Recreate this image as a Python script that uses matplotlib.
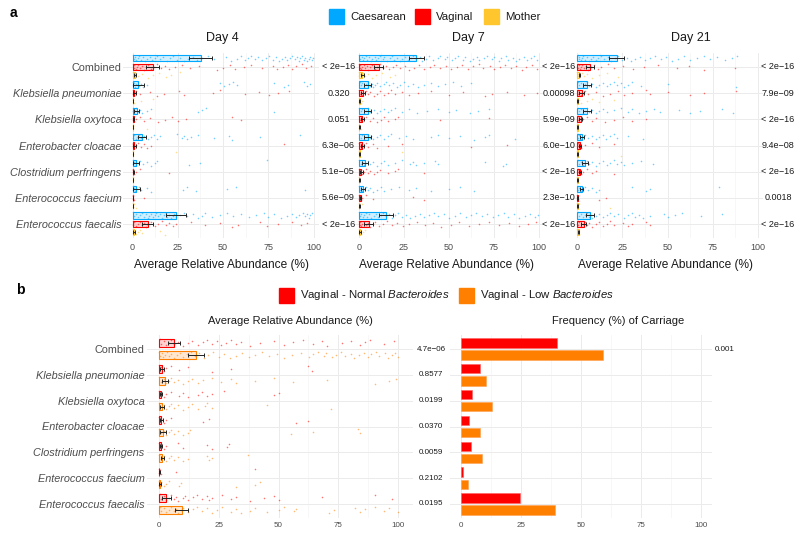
import matplotlib
matplotlib.use('Agg')
import matplotlib.pyplot as plt
from matplotlib.colors import to_rgba

plt.rcParams['font.family'] = ['Liberation Sans', 'DejaVu Sans']
plt.rcParams['mathtext.fontset'] = 'custom'
plt.rcParams['mathtext.it'] = 'Liberation Sans:italic'
plt.rcParams['mathtext.rm'] = 'Liberation Sans'

# ---------------- data ----------------
species = ["Combined", "Klebsiella pneumoniae", "Klebsiella oxytoca", "Enterobacter cloacae",
           "Clostridium perfringens", "Enterococcus faecium", "Enterococcus faecalis"]
days = ["Day 4", "Day 7", "Day 21"]
groups_a = ["Caesarean", "Vaginal", "Mother"]
groups_b = ["Vaginal - Normal", "Vaginal - Low"]

# mean relative abundance (%) and standard error, panel a
d4_caes_mean = [37.6, 3.3, 2.3, 5.2, 2.0, 2.0, 24.0]
d4_caes_se = [6.2, 3.0, 1.2, 2.3, 1.6, 2.0, 5.3]
d4_vag_mean = [11.2, 1.0, 0.6, 1.0, 0.4, 0.2, 8.5]
d4_vag_se = [3.5, 0.8, 0.5, 0.9, 0.3, 0.2, 3.0]
d4_mom_mean = [1.5, 0.3, 0.3, 0.3, 0.2, 0.2, 1.0]
d4_mom_se = [0.6, 0.2, 0.2, 0.2, 0.1, 0.1, 0.5]

d7_caes_mean = [32.0, 5.0, 5.0, 5.0, 3.5, 2.5, 15.0]
d7_caes_se = [4.0, 2.0, 2.0, 1.8, 1.8, 1.2, 4.0]
d7_vag_mean = [11.0, 2.5, 2.0, 2.0, 1.5, 1.0, 5.5]
d7_vag_se = [2.3, 1.0, 0.8, 0.8, 0.7, 0.5, 2.5]
d7_mom_mean = [2.0, 0.5, 0.3, 0.5, 0.3, 0.3, 0.8]
d7_mom_se = [0.8, 0.3, 0.2, 0.3, 0.2, 0.2, 0.4]

d21_caes_mean = [21.8, 5.2, 5.5, 2.5, 4.3, 2.4, 7.0]
d21_caes_se = [4.0, 2.3, 2.3, 1.0, 1.7, 0.8, 2.3]
d21_vag_mean = [6.9, 2.5, 2.0, 1.5, 1.5, 0.3, 3.5]
d21_vag_se = [2.3, 1.3, 0.8, 0.6, 0.6, 0.2, 1.3]
d21_mom_mean = [1.2, 0.3, 0.3, 0.3, 0.3, 0.3, 0.8]
d21_mom_se = [0.5, 0.2, 0.2, 0.2, 0.2, 0.2, 0.4]

# individual samples (relative abundance %), panel a
d4_caes_pts = [
    [0.3, 0.8, 1.4, 2.1, 2.9, 3.6, 4.8, 5.7, 6.9, 8.2, 9.5, 10.7, 12.4, 13.8, 15.3, 17.1, 18.9, 20.6, 22.4, 24.8,
     26.3, 28.7, 30.9, 33.2, 35.6, 38.4, 41.7, 45.3, 51.6, 54.2, 57.8, 59.9, 62.3, 63.8, 65.7, 67.9, 69.4, 71.8,
     73.5, 75.2, 77.6, 79.3, 80.8, 82.7, 84.1, 85.6, 86.9, 88.3, 89.7, 90.8, 91.9, 92.8, 93.6, 94.7, 95.5, 96.4,
     97.3, 98.2, 99.0, 99.8],
    [0.2, 0.5, 0.9, 1.4, 2.0, 2.8, 3.7, 4.6, 5.8, 7.9, 48.3, 50.6, 53.1, 55.4, 57.9, 78.2, 83.6, 86.1, 94.8, 96.3, 97.9],
    [0.1, 0.3, 0.6, 1.0, 1.5, 2.1, 3.0, 4.2, 5.1, 7.8, 10.2, 36.1, 38.2, 40.4, 78.3],
    [0.1, 0.5, 1.0, 1.8, 2.7, 3.6, 4.8, 6.1, 8.3, 10.2, 11.9, 13.8, 15.1, 24.7, 27.2, 28.4, 30.1, 32.3, 36.2,
     44.8, 53.1, 55.2, 70.3, 92.4],
    [0.1, 0.5, 1.0, 1.9, 2.8, 4.1, 5.9, 8.2, 10.1, 12.3, 13.4, 31.2, 37.4, 74.1],
    [0.1, 0.4, 0.9, 1.6, 2.5, 3.6, 4.8, 7.9, 10.2, 27.8, 30.3, 35.1, 52.2, 57.4, 95.1],
    [0.5, 1.1, 1.9, 2.8, 3.9, 5.1, 6.2, 7.3, 8.4, 9.2, 10.3, 11.1, 12.4, 13.2, 14.1, 15.3, 16.2, 17.4, 18.3, 19.1,
     20.2, 21.3, 22.4, 23.1, 24.2, 26.1, 28.3, 30.2, 33.4, 36.1, 38.2, 40.3, 44.1, 48.3, 52.2, 55.4, 60.1, 64.3,
     68.2, 72.4, 75.1, 78.3, 82.2, 85.4, 88.1, 90.3, 92.2, 94.1, 95.3, 96.2, 97.4, 98.1, 99.3]]
d4_vag_pts = [
    [0.2, 0.6, 1.1, 1.7, 2.4, 3.2, 4.1, 5.3, 6.2, 7.5, 8.8, 10.2, 11.9, 13.6, 15.8, 17.9, 20.4, 23.7, 27.1, 31.8,
     36.9, 46.5, 50.2, 53.8, 56.9, 61.7, 65.4, 71.3, 77.8, 80.1, 82.9, 85.7, 88.2, 90.6, 93.4, 96.1, 98.7],
    [0.1, 0.3, 0.6, 1.0, 1.5, 2.2, 3.9, 9.8, 13.7, 17.6, 25.9, 28.3, 44.7, 48.1, 61.9, 69.8, 75.6, 80.2, 86.3],
    [0.1, 0.3, 0.5, 1.0, 2.1, 3.9, 6.2, 9.8, 14.1, 18.2, 21.9, 25.3, 29.8, 54.7, 60.1],
    [0.1, 0.3, 0.5, 1.0, 2.1, 3.2, 4.9, 6.1, 8.2, 10.3, 83.8],
    [0.1, 0.3, 0.5, 1.0, 2.2, 4.1, 20.3],
    [0.1, 0.2, 0.5, 1.0, 6.1],
    [0.2, 0.5, 1.0, 1.9, 3.1, 4.2, 5.1, 6.3, 7.2, 8.1, 10.2, 12.3, 14.1, 16.2, 18.3, 20.1, 22.4, 24.2, 32.1,
     40.3, 48.2, 55.1, 58.3, 70.2, 74.1, 80.3, 88.2, 93.1, 96.2]]
d4_mom_pts = [
    [0.1, 0.3, 0.6, 1.0, 1.5, 2.2, 3.1, 5.4, 8.7, 11.2, 14.6, 18.3, 21.5, 26.0],
    [0.1, 0.3, 0.5, 1.1, 4.8, 11.6],
    [0.1, 0.3, 0.5, 8.2],
    [0.2, 0.5, 24.1],
    [0.1, 0.3],
    [0.1, 0.3, 1.0, 2.1],
    [0.2, 0.5, 1.0, 2.1, 3.2, 4.1, 5.2, 15.1, 18.2]]

d7_caes_pts = [
    [0.4, 0.9, 1.6, 2.2, 3.1, 3.8, 4.7, 5.5, 6.8, 7.4, 8.9, 9.6, 10.8, 12.1, 13.5, 14.2, 15.9, 17.3, 18.6, 19.4,
     21.2, 22.7, 24.1, 25.6, 27.3, 28.8, 30.2, 31.7, 33.9, 35.2, 37.6, 39.1, 41.5, 43.8, 45.2, 47.9, 49.3, 51.8,
     53.4, 55.1, 57.7, 59.2, 61.6, 63.3, 65.8, 67.1, 69.5, 71.2, 73.8, 75.4, 77.9, 79.3, 81.7, 83.2, 85.6, 87.4,
     89.1, 91.8, 93.3, 95.7, 97.2, 99.1],
    [0.5, 1.1, 2.0, 3.1, 4.2, 5.1, 6.3, 7.2, 8.1, 9.3, 10.2, 12.1, 14.3, 15.2, 17.1, 19.3, 21.2, 23.1, 25.3,
     27.2, 30.1, 33.2, 36.1, 40.3, 44.2, 48.1, 52.3, 57.1, 62.2],
    [0.3, 1.0, 2.1, 3.2, 4.1, 5.2, 6.1, 8.3, 10.2, 12.1, 14.3, 16.2, 18.1, 20.3, 24.2, 28.1, 32.3, 38.2, 44.1,
     50.3, 54.2, 62.1, 66.3, 72.2],
    [0.3, 1.0, 2.1, 3.2, 4.1, 5.2, 6.3, 7.1, 8.2, 10.3, 12.1, 14.2, 16.3, 18.1, 22.2, 26.1, 30.3, 40.2, 44.1,
     50.2, 56.3, 64.1, 70.2, 72.3, 87.1],
    [0.3, 1.0, 2.1, 3.2, 4.1, 5.3, 6.2, 8.1, 10.3, 12.2, 14.1, 16.3, 20.2, 24.1, 28.3, 30.2, 32.1, 36.3, 42.2,
     44.1, 70.3, 80.2, 82.1],
    [0.2, 0.5, 1.1, 2.0, 3.1, 4.2, 5.1, 6.3, 8.2, 10.1, 12.3, 14.2, 18.1, 22.3, 28.2, 32.1, 40.3, 50.2, 56.1, 64.3],
    [0.4, 0.9, 1.5, 2.2, 3.0, 3.9, 4.8, 5.9, 7.1, 8.3, 9.6, 10.9, 12.3, 13.7, 15.2, 16.8, 18.5, 20.3, 22.1, 24.2,
     26.4, 28.7, 31.2, 33.8, 36.1, 38.9, 41.6, 44.2, 47.3, 50.1, 53.4, 56.2, 59.5, 62.3, 65.1, 68.4, 71.2, 74.6,
     77.3, 80.5, 83.1, 86.4, 89.2, 92.5, 95.3, 97.8, 99.6]]
d7_vag_pts = [
    [0.2, 0.5, 0.9, 1.4, 2.0, 2.7, 3.5, 4.4, 5.3, 6.4, 7.6, 8.9, 10.3, 11.8, 13.4, 15.1, 16.9, 18.8, 20.9, 23.2,
     25.6, 28.1, 30.7, 33.5, 36.2, 39.4, 42.1, 45.3, 48.7, 51.2, 54.6, 57.3, 60.8, 63.5, 66.9, 69.2, 72.8, 75.3,
     78.6, 81.4, 84.7, 87.2, 90.5, 93.1, 96.4, 99.2],
    [0.2, 0.5, 1.0, 2.1, 3.2, 4.1, 5.2, 6.1, 8.3, 10.2, 12.1, 14.3, 16.2, 18.1, 20.3, 24.2, 28.1, 33.2, 40.1,
     50.3, 58.2, 70.1, 74.3, 82.2, 92.1, 99.3],
    [0.2, 0.5, 1.0, 2.1, 3.2, 4.1, 6.2, 8.1, 10.3, 12.2, 14.1, 16.3, 20.2, 22.1, 45.3, 72.2],
    [0.2, 0.5, 1.0, 2.1, 3.2, 4.1, 5.2, 8.1, 10.3, 16.2, 24.1, 62.3, 82.2],
    [0.2, 0.5, 1.0, 2.1, 3.2, 4.1, 5.2, 6.1, 8.3, 10.2, 12.1, 16.3, 20.2, 22.1, 36.3],
    [0.1, 0.3, 0.5, 1.0, 2.1, 4.2, 8.1, 30.3, 36.2],
    [0.2, 0.5, 0.9, 1.4, 2.1, 2.9, 3.8, 4.9, 6.2, 7.7, 9.3, 11.2, 13.4, 15.8, 18.3, 21.1, 24.6, 28.2, 32.5, 36.8,
     41.3, 45.7, 51.2, 55.8, 61.3, 66.7, 72.4, 78.1, 83.5, 88.9, 94.2, 98.6]]
d7_mom_pts = [
    [0.1, 0.3, 0.6, 1.0, 1.6, 2.4, 3.5, 5.1, 7.3, 9.8, 13.2, 17.6, 20.4],
    [0.1, 0.3, 0.5, 1.0, 2.1],
    [0.1, 0.3, 0.5, 1.0],
    [0.1, 0.3, 24.2],
    [0.1, 0.3],
    [0.1, 0.3, 2.1],
    [0.1, 0.3, 0.6, 1.2, 2.3, 3.4]]

d21_caes_pts = [
    [0.3, 0.7, 1.2, 1.8, 2.5, 3.3, 4.2, 5.2, 6.3, 7.5, 8.8, 10.2, 11.7, 13.3, 15.0, 16.8, 18.7, 20.7, 22.8, 25.0,
     27.3, 29.7, 32.2, 34.8, 37.5, 40.3, 43.2, 46.2, 49.3, 52.5, 55.8, 59.2, 62.7, 66.3, 70.0, 73.8, 77.7, 81.7,
     85.8, 88.4],
    [0.3, 1.0, 2.1, 3.2, 4.1, 5.2, 6.3, 8.1, 10.2, 12.3, 14.1, 16.2, 18.3, 20.1, 22.2, 24.3, 26.1, 28.2, 30.3,
     35.1, 50.2, 88.1],
    [0.3, 1.0, 2.1, 3.2, 4.1, 5.2, 6.3, 8.1, 10.2, 12.3, 14.1, 16.2, 20.3, 24.1, 28.2, 30.3, 34.1, 38.2, 42.3,
     46.1, 56.2, 62.3, 68.1, 80.2, 86.3],
    [0.2, 0.5, 1.0, 2.1, 3.2, 4.1, 6.2, 8.3, 10.1, 12.2, 14.3, 16.1, 18.2, 20.3, 22.1, 28.2, 36.3],
    [0.3, 1.0, 2.1, 3.2, 4.1, 5.2, 6.3, 8.1, 10.2, 12.3, 14.1, 16.2, 18.3, 20.1, 22.2, 24.3, 26.1, 30.2, 35.3, 42.1],
    [0.2, 0.5, 1.0, 2.1, 3.2, 4.1, 6.2, 8.3, 10.1, 12.2, 30.3, 38.1, 40.2, 78.3],
    [0.5, 1.0, 2.1, 3.2, 4.1, 5.2, 6.3, 7.1, 8.2, 10.3, 12.1, 14.2, 16.3, 18.1, 20.2, 22.3, 26.1, 28.2, 30.3,
     32.1, 34.2, 36.3, 40.1, 48.2, 50.3, 54.1, 58.2, 68.3, 80.1]]
d21_vag_pts = [
    [0.2, 0.5, 0.9, 1.4, 2.0, 2.8, 3.7, 4.8, 6.1, 7.6, 9.3, 11.2, 13.4, 16.8, 20.5, 25.3, 30.8, 37.2, 44.6, 55.3,
     62.1, 70.4, 87.6],
    [0.2, 0.5, 1.0, 2.1, 3.2, 4.1, 6.2, 10.3, 14.1, 18.2, 22.3, 26.1, 30.2, 38.3, 40.1, 50.2, 62.3, 70.1, 88.2],
    [0.2, 0.5, 1.0, 2.1, 3.2, 5.1, 8.3, 10.2, 15.1, 20.3, 25.2, 30.1, 38.3],
    [0.2, 0.5, 1.0, 2.1, 4.2, 8.1, 12.3, 20.2],
    [0.2, 0.5, 1.0, 2.1, 3.2, 5.1, 8.3, 10.2, 20.1],
    [0.1, 0.3, 0.5, 12.2, 16.1],
    [0.2, 0.5, 1.0, 2.1, 3.2, 4.1, 5.2, 6.3, 8.1, 10.2, 12.3, 14.1, 16.2, 18.3, 20.1, 25.2, 28.3, 30.1, 38.2, 40.3]]
d21_mom_pts = [
    [0.1, 0.3, 0.6, 1.0, 1.6, 2.5, 3.8, 5.6, 8.2, 11.9, 16.4, 22.7],
    [0.2, 0.5, 1.0, 2.1, 5.2, 8.1, 12.3, 20.2],
    [0.1, 0.3],
    [0.1, 0.3, 0.5, 24.1],
    [0.1, 0.3],
    [0.1, 0.3, 1.0, 18.2],
    [0.1, 0.3, 0.5, 1.0]]

pval_d4 = ["< 2e\u221216", "0.320", "0.051", "6.3e\u221206", "5.1e\u221205", "5.6e\u221209", "< 2e\u221216"]
pval_d7 = ["< 2e\u221216", "0.00098", "5.9e\u221209", "6.0e\u221210", "< 2e\u221216", "2.3e\u221210", "< 2e\u221216"]
pval_d21 = ["< 2e\u221216", "7.9e\u221209", "< 2e\u221216", "9.4e\u221208", "< 2e\u221216", "0.0018", "< 2e\u221216"]

# panel b
b_norm_mean = [6.3, 1.5, 1.0, 1.0, 1.0, 0.3, 3.2]
b_norm_se = [2.5, 0.8, 0.5, 0.6, 0.5, 0.2, 2.0]
b_low_mean = [15.6, 2.6, 1.5, 1.7, 1.5, 0.5, 9.6]
b_low_se = [3.3, 1.2, 0.8, 1.2, 0.7, 0.4, 2.8]
b_norm_pts = [
    [0.5, 1.0, 2.1, 3.2, 4.1, 5.2, 6.3, 8.1, 10.2, 12.3, 14.1, 16.2, 18.3, 20.1, 22.2, 24.3, 26.1, 28.2, 30.3,
     32.1, 34.2, 38.3, 42.1, 48.2, 52.3, 56.1, 60.2, 64.3, 68.1, 70.2, 76.3, 80.1, 84.2, 86.3, 88.1, 94.2, 98.3],
    [0.2, 0.5, 1.0, 2.1, 3.2, 5.1, 8.3, 12.2, 22.1, 30.3, 62.2, 64.1],
    [0.2, 0.5, 1.0, 2.1, 3.2, 5.1, 8.3, 10.2, 12.1, 16.3, 18.2, 20.1, 22.3, 27.2, 48.1, 50.3],
    [0.2, 0.5, 1.0, 2.1, 3.2, 5.1, 18.3, 21.2, 57.1, 62.3],
    [0.2, 0.5, 1.0, 2.1, 3.2, 8.1, 10.3, 20.2, 22.1, 28.3, 29.2],
    [0.1, 0.3, 0.5, 1.0, 7.2, 40.1],
    [0.5, 1.0, 2.1, 3.2, 4.1, 5.2, 6.3, 7.1, 8.2, 10.3, 11.1, 12.2, 14.3, 16.1, 18.2, 20.3, 21.1, 22.2, 26.3,
     30.1, 32.2, 38.3, 44.1, 48.2, 50.3, 68.1, 90.2, 97.3]]
b_low_pts = [
    [0.3, 0.7, 1.2, 1.8, 2.5, 3.3, 4.2, 5.2, 6.3, 7.5, 8.8, 10.2, 11.7, 13.3, 15.0, 16.8, 18.7, 20.7, 22.8, 25.0,
     27.3, 29.7, 32.2, 34.8, 37.5, 40.3, 43.2, 46.2, 49.3, 52.5, 55.8, 59.2, 62.7, 64.3, 66.3, 68.8, 70.0, 72.4,
     73.8, 76.1, 77.7, 80.2, 81.7, 83.4, 85.8, 87.2, 88.4, 90.6, 92.1, 94.3, 95.8, 97.2, 98.6, 99.8],
    [0.3, 1.0, 2.1, 3.2, 4.1, 5.2, 6.3, 8.1, 10.2, 12.3, 14.1, 16.2, 18.3, 22.1, 26.2, 30.3, 32.1, 40.2, 48.3,
     56.1, 70.2, 90.3, 96.1, 99.2],
    [0.3, 1.0, 2.1, 3.2, 4.1, 5.2, 6.3, 8.1, 10.2, 12.3, 14.1, 16.2, 19.3, 20.1, 22.2, 45.3, 72.1],
    [0.3, 1.0, 2.1, 3.2, 4.1, 5.2, 6.3, 8.1, 10.2, 12.3, 13.1, 55.2, 64.3, 83.1, 84.2],
    [0.3, 1.0, 2.1, 3.2, 4.1, 5.2, 6.3, 8.1, 10.2, 12.3, 20.1, 21.2, 22.3, 37.1],
    [0.1, 0.3, 1.0, 2.1, 3.2, 4.1, 8.3, 9.2, 32.1, 40.3, 42.2],
    [0.5, 1.0, 2.1, 3.2, 4.1, 5.2, 6.3, 7.1, 8.2, 9.3, 10.1, 12.2, 14.3, 16.1, 18.2, 20.3, 22.1, 24.2, 26.3, 30.1,
     32.2, 34.3, 38.1, 40.2, 45.3, 50.1, 52.2, 56.3, 57.1, 71.2, 73.3, 82.1, 84.2, 86.3, 90.1, 94.2, 96.3, 100.0]]
b_norm_freq = [40.1, 8.2, 4.9, 3.3, 4.3, 0.8, 24.5]
b_low_freq = [59.1, 10.5, 12.9, 8.0, 8.9, 3.0, 39.3]
pval_b = ["4.7e\u221206", "0.8577", "0.0199", "0.0370", "0.0059", "0.2102", "0.0195"]
pval_b_freq = "0.001"

# ---------------- style ----------------
C_CAES, C_VAG, C_MOM, C_LOW = "#00A9FF", "#FF0000", "#FFC62E", "#FF8000"
GRID = "#EBEBEB"
TXT = "#4D4D4D"

W, H = 800, 536
fig = plt.figure(figsize=(8, 5.36), dpi=100)


def add_ax(x0, y0, x1, y1):
    return fig.add_axes([x0 / W, 1 - y1 / H, (x1 - x0) / W, (y1 - y0) / H])


def ftext(x, y, s, **kw):
    fig.text(x / W, 1 - y / H, s, **kw)


def jitter(n, amp):
    return [((k * 0.6180339887) % 1 - 0.5) * 2 * amp for k in range(n)]


def base_axes(ax, xlim, ylabels, tick_fs, ypad):
    ax.set_xlim(*xlim)
    ax.set_ylim(6.55, -0.55)
    for s in ax.spines.values():
        s.set_visible(False)
    ax.set_xticks([0, 25, 50, 75, 100])
    ax.set_xticks([12.5, 37.5, 62.5, 87.5], minor=True)
    ax.set_yticks(range(7))
    ax.grid(which='major', color=GRID, lw=0.7)
    ax.grid(which='minor', axis='x', color='#F4F4F4', lw=0.5)
    ax.set_axisbelow(True)
    ax.tick_params(which='both', length=0, labelsize=tick_fs, labelcolor=TXT, pad=3)
    if ylabels:
        ax.set_yticklabels(species, fontsize=7.8, color=TXT)
        for lab in ax.get_yticklabels()[1:]:
            lab.set_fontstyle('italic')
        ax.tick_params(axis='y', pad=ypad)
    else:
        ax.set_yticklabels([])


def draw_abund(ax, series, bar_h, amp):
    for means, ses, pts, col, off in series:
        for i in range(7):
            y = i + off
            ax.barh(y, means[i], height=bar_h, color=to_rgba(col, 0.18), edgecolor=col, lw=0.8, zorder=2)
            jy = jitter(len(pts[i]), amp)
            ax.scatter(pts[i], [y + j for j in jy], s=1.3, color=col, alpha=0.55, lw=0, zorder=3)
            ax.errorbar(means[i], y, xerr=ses[i], color='#222222', lw=0.7, capsize=1.3,
                        capthick=0.7, zorder=4)


# ---------------- panel a ----------------
ftext(10, 13, "a", fontsize=10, fontweight='bold', va='center')

sq = 15
leg_a = [(329, C_CAES, "Caesarean"), (415, C_VAG, "Vaginal"), (484, C_MOM, "Mother")]
for x, c, lab in leg_a:
    fig.patches.append(plt.Rectangle((x / W, 1 - 24 / H), sq / W, sq / H, transform=fig.transFigure,
                                     color=c, zorder=5))
    ftext(x + 21, 17, lab, fontsize=8.2, va='center', color='#1A1A1A')

panel_px = [(132.5, 1.81), (358.7, 1.80), (577.3, 1.804)]
title_x = [222, 468, 691]
pval_x = [338.5, 559, 778]
day_data = [
    (d4_caes_mean, d4_caes_se, d4_caes_pts, d4_vag_mean, d4_vag_se, d4_vag_pts, d4_mom_mean, d4_mom_se, d4_mom_pts, pval_d4),
    (d7_caes_mean, d7_caes_se, d7_caes_pts, d7_vag_mean, d7_vag_se, d7_vag_pts, d7_mom_mean, d7_mom_se, d7_mom_pts, pval_d7),
    (d21_caes_mean, d21_caes_se, d21_caes_pts, d21_vag_mean, d21_vag_se, d21_vag_pts, d21_mom_mean, d21_mom_se, d21_mom_pts, pval_d21),
]
y_top, y_bot = 52.6, 238.4
row_px = (y_bot - y_top) / 7.1
for k in range(3):
    x0, sc = panel_px[k]
    ax = add_ax(x0 - 5 * sc, y_top, x0 + 103 * sc, y_bot)
    base_axes(ax, (-5, 103), k == 0, 6.5, 1.5)
    cm, cs, cp, vm, vs, vp, mm, ms, mp, pv = day_data[k]
    draw_abund(ax, [(cm, cs, cp, C_CAES, -0.33), (vm, vs, vp, C_VAG, 0.0), (mm, ms, mp, C_MOM, 0.31)],
               bar_h=0.24, amp=0.11)
    ax.set_xlabel("Average Relative Abundance (%)", fontsize=8.6, color='#1A1A1A', labelpad=5)
    ftext(title_x[k], 38, days[k], fontsize=9, ha='center', va='center', color='#1A1A1A')
    for i in range(7):
        ftext(pval_x[k], y_top + (i + 0.55) * row_px, pv[i], fontsize=6.5, ha='center', va='center',
              color='#1A1A1A')

# ---------------- panel b ----------------
ftext(16, 290, "b", fontsize=10, fontweight='bold', va='center')
leg_b = [(279, C_VAG, "Vaginal - Normal $\\it{Bacteroides}$"), (459, C_LOW, "Vaginal - Low $\\it{Bacteroides}$")]
for x, c, lab in leg_b:
    fig.patches.append(plt.Rectangle((x / W, 1 - 303 / H), sq / W, sq / H, transform=fig.transFigure,
                                     color=c, zorder=5))
    ftext(x + 21, 295.5, lab, fontsize=8.2, va='center', color='#1A1A1A')

yb_top, yb_bot = 334.8, 518.2
rowb_px = (yb_bot - yb_top) / 7.1

axl = add_ax(158.7 - 5 * 2.396, yb_top, 158.7 + 106 * 2.396, yb_bot)
base_axes(axl, (-5, 106), True, 5.8, 1.5)
draw_abund(axl, [(b_norm_mean, b_norm_se, b_norm_pts, C_VAG, -0.24),
                 (b_low_mean, b_low_se, b_low_pts, C_LOW, 0.23)], bar_h=0.3, amp=0.13)
ftext(290, 321, "Average Relative Abundance (%)", fontsize=8, ha='center', va='center', color='#1A1A1A')
for i in range(7):
    ftext(431, yb_top + (i + 0.55) * rowb_px, pval_b[i], fontsize=5.8, ha='center', va='center', color='#1A1A1A')

axr = add_ax(460.7 - 4.5 * 2.403, yb_top, 460.7 + 104.5 * 2.403, yb_bot)
base_axes(axr, (-4.5, 104.5), False, 5.8, 1.5)
ys = list(range(7))
axr.barh([y - 0.235 for y in ys], b_norm_freq, height=0.36, color=C_VAG, edgecolor='#FF6060', lw=0.4, zorder=2)
axr.barh([y + 0.235 for y in ys], b_low_freq, height=0.36, color=C_LOW, edgecolor='#FFA050', lw=0.4, zorder=2)
ftext(618, 321, "Frequency (%) of Carriage", fontsize=8, ha='center', va='center', color='#1A1A1A')
ftext(725, yb_top + 0.55 * rowb_px, pval_b_freq, fontsize=5.8, ha='center', va='center', color='#1A1A1A')

fig.savefig("out.png", dpi=100, facecolor='white')
